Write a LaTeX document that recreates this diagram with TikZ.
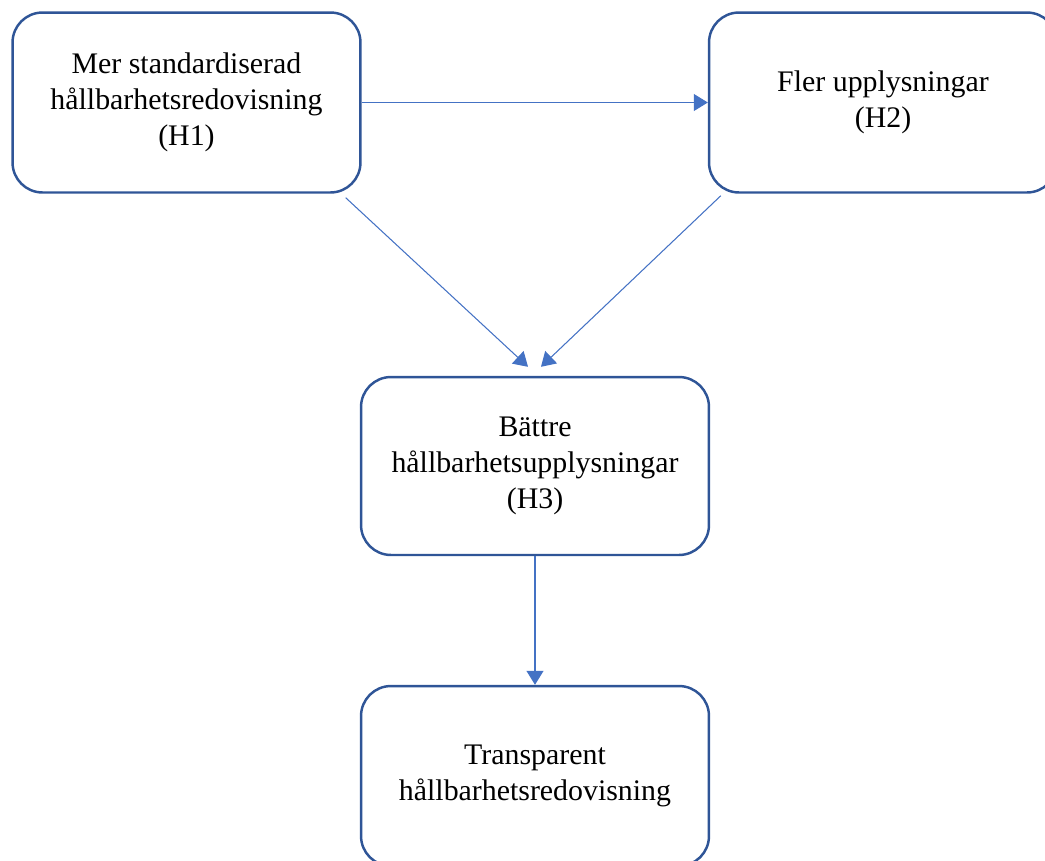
\documentclass[tikz,border=0pt]{standalone}
\usepackage{fontspec}
\setmainfont{Liberation Serif}
\usetikzlibrary{arrows.meta}
\definecolor{boxblue}{RGB}{47,85,151}
\definecolor{arrblue}{RGB}{68,114,196}
\newcommand{\FT}{\fontsize{17}{20.5}\selectfont}

\begin{document}
\begin{tikzpicture}[x=0.02cm,y=-0.02cm]
\tikzstyle{caja}=[draw=boxblue,line width=1.4pt,rounded corners=0.6cm,fill=white,
  minimum width=6.96cm,minimum height=3.6cm,align=center,font=\FT,inner sep=0pt]
\tikzstyle{flecha}=[arrblue,line width=0.6pt,-{Triangle[length=0.28cm,width=0.34cm]}]

\useasboundingbox (0,0) rectangle (1045,860);
\clip (0,0) rectangle (1045,860);

\node[caja] (h1) at (186.5,102.5) {Mer standardiserad\\hållbarhetsredovisning\\(H1)};
\node[caja] (h2) at (883,102.5) {Fler upplysningar\\(H2)};
\node[caja,minimum height=3.56cm] (h3) at (535,466) {Bättre\\hållbarhetsupplysningar\\(H3)};
\node[caja] (h4) at (535,776) {Transparent\\hållbarhetsredovisning};

\draw[flecha] (h1.east) -- (h2.west);
\draw[flecha] ([xshift=-0.32cm,yshift=-0.08cm]h1.south east) -- ([xshift=-0.14cm,yshift=0.18cm]h3.north);
\draw[flecha] ([xshift=0.26cm,yshift=-0.04cm]h2.south west) -- ([xshift=0.12cm,yshift=0.18cm]h3.north);
\draw[flecha] (h3.south) -- (h4.north);
\end{tikzpicture}
\end{document}
